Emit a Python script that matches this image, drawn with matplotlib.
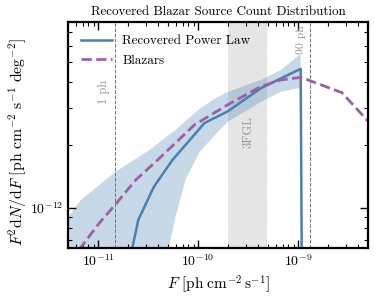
import matplotlib
matplotlib.use("Agg")
import matplotlib.pyplot as plt
from matplotlib.ticker import NullFormatter

plt.rcParams["font.family"] = "serif"
plt.rcParams["font.serif"] = ["cmr10"]
plt.rcParams["mathtext.fontset"] = "cm"
plt.rcParams["axes.formatter.use_mathtext"] = True
plt.rcParams["axes.unicode_minus"] = False

# recovered power law (median) and its band
flux_fit = [2.07e-11, 2.52e-11, 3.61e-11, 5.51e-11, 1.156e-10, 1.97e-10, 4.24e-10, 1.06e-9, 1.14e-9]
dnds_fit = [5.6e-13, 8.73e-13, 1.26e-12, 1.69e-12, 2.55e-12, 2.90e-12, 3.75e-12, 4.65e-12, 1e-14]

flux_band = [4.16e-12, 6.73e-12, 1.50e-11, 3.27e-11, 5.09e-11, 5.94e-11, 7.48e-11,
             1.03e-10, 1.51e-10, 1.97e-10, 4.24e-10, 6.71e-10, 1.06e-9]
band_hi = [7.98e-13, 1.09e-12, 1.49e-12, 1.89e-12, 2.24e-12, 2.36e-12, 2.61e-12,
           2.98e-12, 3.37e-12, 3.60e-12, 4.11e-12, 4.59e-12, 5.48e-12]
band_lo = [1e-13, 1e-13, 2e-13, 3.6e-13, 6.43e-13, 9.02e-13, 1.36e-12,
           1.85e-12, 2.26e-12, 2.58e-12, 3.22e-12, 3.60e-12, 3.77e-12]

# blazar source count
flux_blz = [5.23e-12, 1.023e-11, 1.50e-11, 2.38e-11, 3.76e-11, 9.19e-11, 1.97e-10,
            4.24e-10, 6.71e-10, 1.07e-9, 2.74e-9, 6.85e-9]
dnds_blz = [5.5e-13, 8.41e-13, 1.04e-12, 1.36e-12, 1.66e-12, 2.50e-12, 3.12e-12,
            3.82e-12, 4.11e-12, 4.23e-12, 3.57e-12, 2.21e-12]

ph_lines = [1.47e-11, 1.32e-9]
ph_labels = ["1 ph", "90 ph"]
fgl_range = [2.0e-10, 4.8e-10]

fig = plt.figure(figsize=(3.74, 2.98), dpi=100)
ax = fig.add_axes([0.182, 0.168, 0.802, 0.758])

ax.axvspan(fgl_range[0], fgl_range[1], color="grey", alpha=0.2, lw=0.6, ls="--")
for xv in ph_lines:
    ax.axvline(xv, color="0.45", ls="--", lw=0.7)

ax.fill_between(flux_band, band_lo, band_hi, color="steelblue", alpha=0.3, lw=0)
ax.plot(flux_fit, dnds_fit, color="#4a7fae", lw=1.8, label="Recovered Power Law")
ax.plot(flux_blz, dnds_blz, color="#9a62a4", lw=2.0, ls="--", label="Blazars")

ax.text(ph_lines[0] * 0.9, 4.1e-12, ph_labels[0], rotation=90, color="0.6",
        fontsize=9, ha="right", va="top")
ax.text(ph_lines[1] * 0.9, 7.5e-12, ph_labels[1], rotation=90, color="0.6",
        fontsize=8.5, ha="right", va="top")
ax.text(3.17e-10, 2.31e-12, "3FGL", rotation=90, color="0.6",
        fontsize=9, ha="center", va="center")

ax.set_xscale("log")
ax.set_yscale("log")
ax.set_xlim(5e-12, 5e-9)
ax.set_ylim(6.4e-13, 7.8e-12)
ax.xaxis.set_minor_formatter(NullFormatter())
ax.yaxis.set_minor_formatter(NullFormatter())
ax.tick_params(which="both", direction="in", top=True, right=True, labelsize=10)
ax.tick_params(which="major", length=6, width=1)
ax.tick_params(which="minor", length=3, width=0.8)
for s in ax.spines.values():
    s.set_linewidth(1.6)

ax.set_xlabel(r"$F\ [\mathrm{ph\ cm^{-2}\,s^{-1}}]$", fontsize=11, labelpad=3)
ax.set_ylabel(r"$F^2\mathrm{d}N/\mathrm{d}F\ [\mathrm{ph\ cm^{-2}\ s^{-1}\ deg^{-2}}]$",
              fontsize=11.3)
ax.yaxis.set_label_coords(-0.13, 0.47)
ax.set_title("Recovered Blazar Source Count Distribution", fontsize=9.4, pad=5)
ax.legend(loc="upper left", frameon=False, fontsize=9.5, handlelength=2.3,
          borderaxespad=0.6, labelspacing=0.55)

fig.savefig("out.png", dpi=100)
